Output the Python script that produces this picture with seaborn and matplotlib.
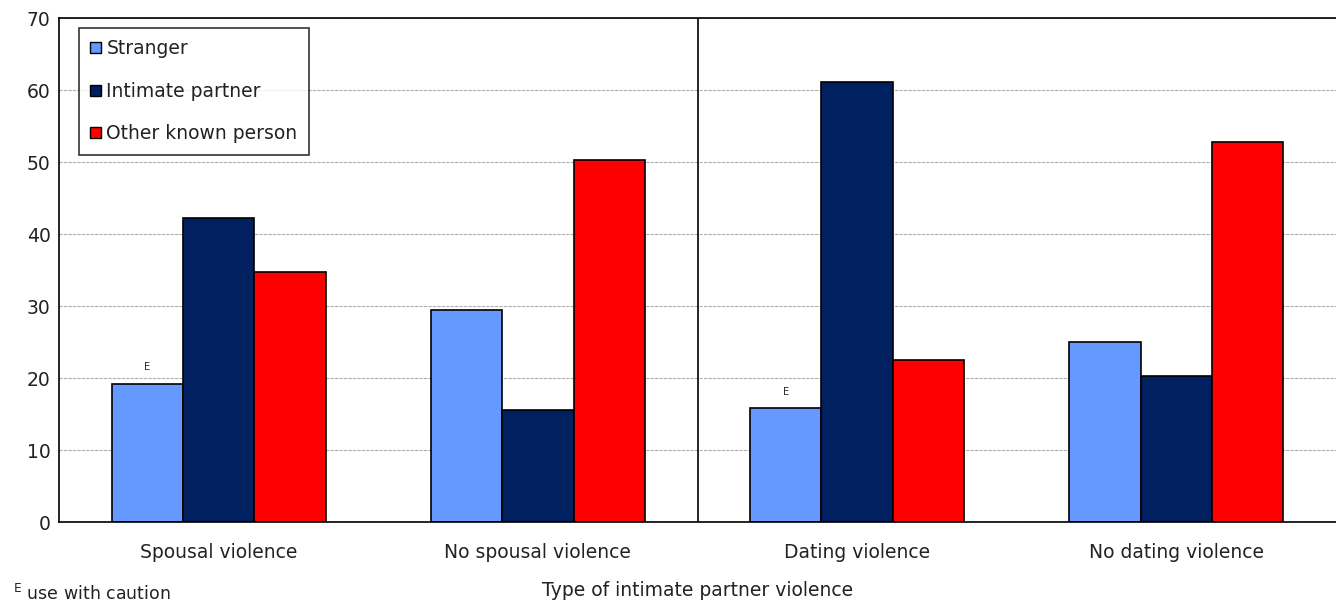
import numpy as np
import pandas as pd
import seaborn as sns
import matplotlib.pyplot as plt

categories = ["Spousal violence", "No spousal violence", "Dating violence", "No dating violence"]
series = ["Stranger", "Intimate partner", "Other known person"]
stranger = [19.2, 29.4, 15.8, 25.0]
intimate = [42.2, 15.6, 61.1, 20.3]
other = [34.7, 50.3, 22.5, 52.8]
caution = [True, False, True, False]  # "E" flag on stranger bars
colors = ["#6699FF", "#002060", "#FF0000"]

df = pd.DataFrame({
    "type": categories * 3,
    "perp": [s for s in series for _ in categories],
    "value": stranger + intimate + other,
})

sns.set_style("white")
plt.rcParams["font.family"] = ["DejaVu Sans"]
FS = 13.5

fig = plt.figure(figsize=(13.36, 6.05), dpi=100)
ax = fig.add_axes([0.0442, 0.137, 0.9558, 0.833])

sns.barplot(data=df, x="type", y="value", hue="perp", order=categories,
            hue_order=series, palette=colors, width=0.67, saturation=1,
            edgecolor="black", linewidth=1.2, ax=ax)

ax.set_ylim(0, 70)
ax.set_xlim(-0.5, 3.5)
ax.set_yticks(range(0, 71, 10))
ax.yaxis.grid(True, color="#b0b0b0", linestyle=(0, (3, 1)), linewidth=0.8)
ax.set_axisbelow(True)
ax.axvline(1.5, color="black", linewidth=1.2)
for sp in ["left", "bottom", "top"]:
    ax.spines[sp].set_color("black")
    ax.spines[sp].set_linewidth(1.2)
ax.spines["right"].set_visible(False)
ax.tick_params(axis="y", labelsize=FS, colors="#222222", length=0, pad=6)
ax.tick_params(axis="x", labelsize=FS, colors="#222222", length=0, pad=15)
ax.set_ylabel("")
ax.set_xlabel("Type of intimate partner violence", fontsize=FS, labelpad=14,
              color="#222222")

# E markers above stranger bars
bars = ax.containers[0]
for bar, flag in zip(bars, caution):
    if flag:
        ax.text(bar.get_x() + bar.get_width() / 2, bar.get_height() + 1.6, "E",
                ha="center", va="bottom", fontsize=7)

leg = ax.legend(loc="upper left", bbox_to_anchor=(0.0157, 0.98), frameon=True,
                fancybox=False, edgecolor="black", fontsize=FS,
                handlelength=0.55, handleheight=0.55, handletextpad=0.3,
                labelspacing=1.25, borderpad=0.6, borderaxespad=0)
leg.get_frame().set_linewidth(1.2)
for t in leg.get_texts():
    t.set_color("#222222")
for h in leg.legend_handles:
    h.set_edgecolor("black")
    h.set_linewidth(1)

fig.text(0.01, 0.002, "$^{\\mathrm{E}}$ use with caution", fontsize=FS - 1,
         ha="left", va="bottom", color="#222222")

fig.savefig("out.png", dpi=100)
